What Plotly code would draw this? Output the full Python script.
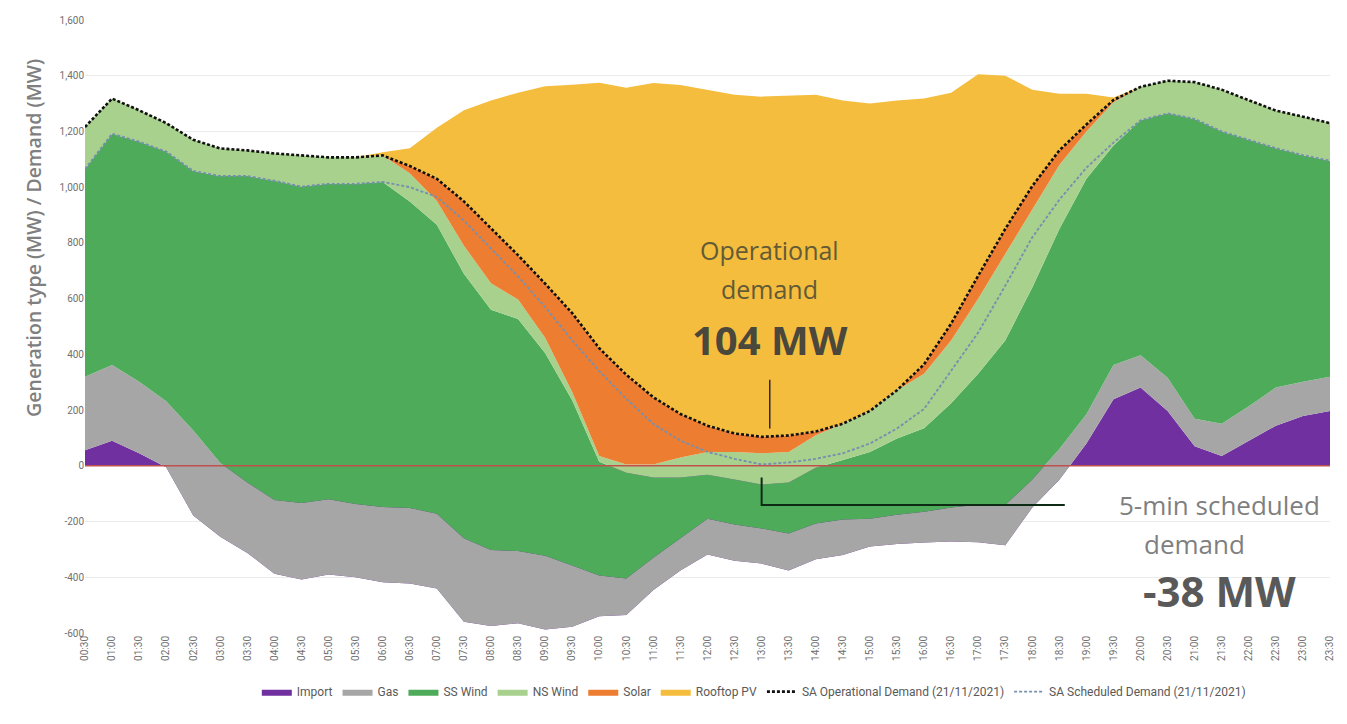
import plotly.graph_objects as go

times = ["00:30","01:00","01:30","02:00","02:30","03:00","03:30","04:00","04:30","05:00",
         "05:30","06:00","06:30","07:00","07:30","08:00","08:30","09:00","09:30","10:00",
         "10:30","11:00","11:30","12:00","12:30","13:00","13:30","14:00","14:30","15:00",
         "15:30","16:00","16:30","17:00","17:30","18:00","18:30","19:00","19:30","20:00",
         "20:30","21:00","21:30","22:00","22:30","23:00","23:30"]

import_mw = [56, 90, 45, -5, -178, -255, -313, -387, -408, -390, -400, -418, -422, -440, -560, -575,
             -565, -587, -578, -540, -535, -446, -376, -318, -341, -351, -376, -335, -320, -290, -281,
             -275, -272, -274, -285, -150, -50, 80, 239, 281, 197, 70, 35, 91, 144, 179, 197]
gas_mw = [264, 272, 257, 237, 305, 265, 253, 264, 275, 270, 263, 270, 271, 268, 300, 273, 259, 264,
          220, 146, 131, 116, 116, 128, 130, 126, 133, 128, 127, 100, 105, 110, 122, 134, 144, 101,
          110, 105, 123, 116, 119, 99, 116, 123, 137, 123, 123]
ss_wind_mw = [745, 830, 861, 896, 931, 1030, 1100, 1146, 1135, 1132, 1149, 1167, 1100, 1037, 949, 862,
              833, 728, 593, 409, 379, 288, 218, 158, 162, 158, 183, 200, 214, 240, 274, 300, 375, 470,
              591, 689, 790, 845, 788, 843, 949, 1076, 1049, 956, 859, 813, 775]
ns_wind_mw = [151, 126, 113, 102, 112, 99, 92, 98, 112, 95, 95, 95, 101, 85, 101, 95, 70, 55, 30, 20,
              30, 47, 72, 82, 99, 112, 110, 117, 130, 147, 173, 195, 225, 270, 310, 280, 230, 170, 155,
              120, 117, 132, 150, 142, 135, 138, 135]
solar_mw = [0, 0, 0, 0, 0, 0, 0, 0, 0, 0, 0, 0, 26, 80, 159, 199, 159, 194, 283, 387, 322, 241, 156,
            94, 66, 59, 59, 13, 0, 0, 0, 34, 60, 82, 90, 84, 52, 25, 8, 0, 0, 0, 0, 0, 0, 0, 0]
rooftop_pv_mw = [0, 0, 0, 0, 0, 0, 0, 0, 0, 0, 0, 11, 64, 183, 327, 457, 583, 708, 820, 953, 1030, 1128,
                 1181, 1206, 1216, 1221, 1220, 1209, 1160, 1103, 1040, 954, 829, 723, 550, 346, 203,
                 110, 9, 0, 0, 0, 0, 0, 0, 0, 0]
operational_demand = [1216, 1318, 1276, 1230, 1170, 1139, 1132, 1121, 1114, 1107, 1107, 1114, 1076,
                      1030, 949, 854, 756, 654, 548, 422, 327, 246, 186, 144, 116, 104, 109, 123, 151,
                      197, 271, 364, 510, 682, 850, 1004, 1132, 1225, 1313, 1360, 1382, 1377, 1350,
                      1312, 1275, 1253, 1230]
scheduled_demand = [1065, 1192, 1163, 1128, 1058, 1040, 1040, 1023, 1002, 1012, 1012, 1019, 1000, 965,
                    880, 780, 680, 570, 450, 340, 240, 150, 90, 50, 25, 5, 12, 25, 45, 80, 134, 204,
                    342, 478, 646, 820, 955, 1070, 1160, 1240, 1265, 1245, 1200, 1170, 1140, 1115, 1095]

y_ticks = [-600, -400, -200, 0, 200, 400, 600, 800, 1000, 1200, 1400, 1600]
y_tick_text = ["-600", "-400", "-200", "0", "200", "400", "600", "800", "1,000", "1,200", "1,400", "1,600"]

areas = [
    ("Import", import_mw, "#7030A0"),
    ("Gas", gas_mw, "#A6A6A6"),
    ("SS Wind", ss_wind_mw, "#4EAB5A"),
    ("NS Wind", ns_wind_mw, "#A9D18E"),
    ("Solar", solar_mw, "#ED7D31"),
    ("Rooftop PV", rooftop_pv_mw, "#F4BD3E"),
]

fig = go.Figure()
for name, vals, col in areas:
    fig.add_trace(go.Scatter(
        x=times, y=vals, name=name, stackgroup="gen", mode="lines",
        line=dict(width=0, color=col), fillcolor=col,
    ))

fig.add_trace(go.Scatter(
    x=times, y=operational_demand, name="SA Operational Demand (21/11/2021)", mode="lines",
    line=dict(color="#111111", width=2.6, dash="3px,2px"),
))
fig.add_trace(go.Scatter(
    x=times, y=scheduled_demand, name="SA Scheduled Demand (21/11/2021)", mode="lines",
    line=dict(color="#7890AE", width=1.9, dash="3px,2px"),
))

LBL = "#6b6b6b"
# the page body adds an 8px offset, so the figure is 8px smaller and margins shifted
fig.update_layout(
    width=1339, height=716,
    margin=dict(l=77, r=17, t=6, b=91),
    paper_bgcolor="white", plot_bgcolor="white",
    font=dict(family="Liberation Sans Narrow, Roboto, Liberation Sans, sans-serif", color=LBL, size=12),
    showlegend=True,
    legend=dict(orientation="h", x=0.138, xanchor="left", y=-0.072, yanchor="top",
                font=dict(size=12, color="#595959"), itemwidth=30, traceorder="normal"),
    xaxis=dict(type="category", range=[0, 46], tickangle=-90, showgrid=False, zeroline=False,
               showline=False, ticks="", tickfont=dict(size=10, color="#707070")),
    yaxis=dict(range=[-600, 1600], tickvals=y_ticks, ticktext=y_tick_text, showgrid=True,
               gridcolor="#EBEBEB", gridwidth=1, zeroline=False, showline=False, ticks="",
               tickfont=dict(size=10, color="#707070")),
)

# red zero line
fig.add_shape(type="line", xref="x", yref="y", x0=0, x1=46, y0=0, y1=0,
              line=dict(color="#C0504D", width=1.5), layer="above")
# pointer to operational demand minimum
fig.add_shape(type="line", xref="x", yref="y", x0=25.3, x1=25.3, y0=134, y1=309,
              line=dict(color="#2b2b2b", width=1.5), layer="above")
# elbow connector to scheduled demand minimum
fig.add_shape(type="path", xref="x", yref="y",
              path="M 36.2,-141 L 25.0,-141 L 25.0,-42",
              line=dict(color="#0d2a14", width=2), layer="above")

ann_font = "Open Sans, Lato, sans-serif"
fig.add_annotation(x=25.3, y=773, xref="x", yref="y", text="Operational", showarrow=False,
                   font=dict(family=ann_font, size=25, color="#635a36"))
fig.add_annotation(x=25.3, y=636, xref="x", yref="y", text="demand", showarrow=False,
                   font=dict(family=ann_font, size=25, color="#635a36"))
fig.add_annotation(x=25.3, y=453, xref="x", yref="y", text="<b>104 MW</b>", showarrow=False,
                   font=dict(family=ann_font, size=40, color="#4a473c"))
fig.add_annotation(x=41.9, y=-141, xref="x", yref="y", text="5-min scheduled", showarrow=False,
                   font=dict(family=ann_font, size=26, color="#7f7f7f"))
fig.add_annotation(x=41.0, y=-281, xref="x", yref="y", text="demand", showarrow=False,
                   font=dict(family=ann_font, size=26, color="#7f7f7f"))
fig.add_annotation(x=41.9, y=-446, xref="x", yref="y", text="<b>-38 MW</b>", showarrow=False,
                   font=dict(family=ann_font, size=42, color="#595959"))

# y-axis title
fig.add_annotation(x=-0.054, y=0.645, xref="paper", yref="paper",
                   text="Generation type (MW) / Demand (MW)", textangle=-90, showarrow=False,
                   font=dict(family="Open Sans, sans-serif", size=19.5, weight=600, color="#7f7f7f"))

fig.write_html("out.html")
